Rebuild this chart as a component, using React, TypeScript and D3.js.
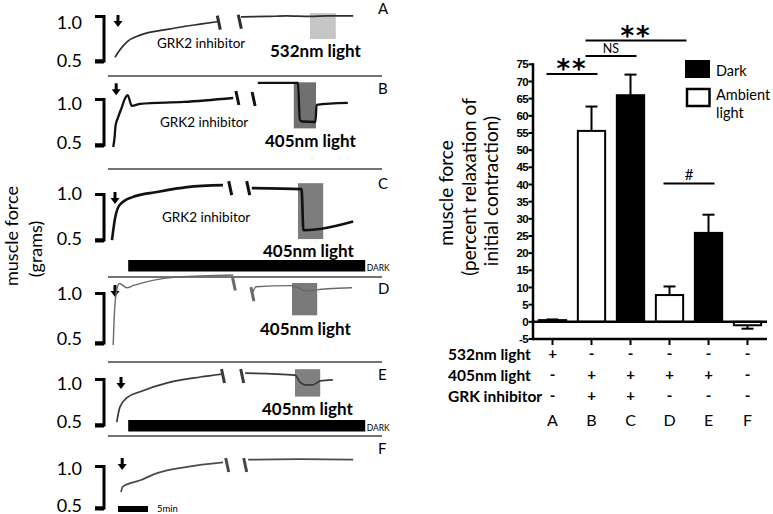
import React from "react";
import * as d3 from "d3";

// ---------------- bar chart data (right) ----------------
const groups = ["A", "B", "C", "D", "E", "F"];
const barMeans = [0.5, 55.6, 66, 7.8, 25.9, -1.0];
const barErrors = [0.2, 7.1, 6.0, 2.5, 5.3, 1.0];
const barCondition = ["ambient", "ambient", "dark", "ambient", "dark", "ambient"];
const yTickValues = [-5, 0, 5, 10, 15, 20, 25, 30, 35, 40, 45, 50, 55, 60, 65, 70, 75];
const rowLabels = ["532nm light", "405nm light", "GRK inhibitor"];
const row532 = ["+", "-", "-", "-", "-", "-"];
const row405 = ["-", "+", "+", "+", "+", "-"];
const rowGRK = ["-", "+", "+", "-", "-", "-"];
// significance brackets: from, to, label, level (in % units)
const sigFrom = ["A", "B", "B", "D"];
const sigTo = ["B", "C", "D", "E"];
const sigLabels = ["**", "NS", "**", "#"];
const sigLevels = [72.2, 77.4, 81.9, 40.3];

// ---------------- force traces (left), [minutes, grams] ----------------
const traceA = [[0.5, 0.56], [1.3, 0.635], [2.5, 0.72], [4.7, 0.79], [9.2, 0.85], [14.7, 0.905], [17.5, 0.93]];
const traceApost = [[21.5, 0.98], [26, 0.985], [29, 0.99], [33, 0.985], [36, 0.99], [40.2, 0.99]];
const traceB = [[0.2, 0.5], [0.4, 0.58], [0.6, 0.72], [1.0, 0.8], [1.6, 0.9], [2.2, 1.0], [2.6, 1.03], [3.3, 0.92], [4.7, 0.94], [12, 0.96], [20.2, 1.0]];
const traceBpost = [[24.3, 1.155], [31, 1.155], [31.3, 0.78], [31.7, 0.76], [33.9, 0.755], [34.1, 0.93], [39.3, 0.95]];
const traceC = [[0, 0.52], [0.5, 0.74], [1.3, 0.88], [3.5, 0.96], [7.5, 1.01], [12.5, 1.06], [18.5, 1.08]];
const traceCpost = [[23.3, 1.05], [31.6, 1.04], [31.9, 0.62], [40.2, 0.71]];
const traceD = [[0.2, 0.5], [0.4, 0.8], [0.8, 1.02], [1.2, 1.08], [2.5, 1.04], [3.5, 1.06], [6.8, 1.11], [10.8, 1.14], [20.2, 1.16]];
const traceDpost = [[23.5, 1.0], [24, 1.05], [29.7, 1.06], [31, 1.04], [32.5, 1.01], [34, 1.02], [36, 1.03], [40, 1.04]];
const traceE = [[0.8, 0.55], [1.3, 0.7], [2.5, 0.8], [4.7, 0.86], [9.2, 0.95], [14.7, 1.01], [18.3, 1.04]];
const traceEpost = [[22.2, 1.05], [30.5, 1.03], [31.3, 0.96], [32.2, 0.93], [33.5, 0.93], [34.7, 0.97], [36.8, 0.98]];
const traceF = [[1.5, 0.7], [1.8, 0.76], [4.7, 0.83], [7.5, 0.91], [12.5, 0.98], [18.5, 1.03]];
const traceFpost = [[22.7, 1.06], [31.3, 1.065], [40.2, 1.06]];

// break marks [minutes, grams]
const breaksA = [[17.8, 0.92], [21.3, 0.93]];
const breaksB = [[20.9, 1.0], [23.6, 0.99]];
const breaksC = [[19.7, 1.05], [22.7, 1.05]];
const breaksD = [[20.3, 1.08], [23.4, 0.98]];
const breaksE = [[18.5, 1.02], [21.7, 1.02]];
const breaksF = [[19.2, 1.0], [22.2, 1.0]];

// light exposure windows [start, end, gTop, gBottom]
const lightA = [33, 37.3, 1.02, 0.75];
const lightB = [30.3, 34, 1.16, 0.69];
const lightC = [31, 35.2, 1.1, 0.53];
const lightD = [30, 34.2, 1.085, 0.78];
const lightE = [30.5, 34.7, 1.09, 0.81];

// drug addition arrow [minutes, grams]
const arrowA = [1.0, 1.0];
const arrowB = [0.7, 1.15];
const arrowC = [0.5, 1.01];
const arrowD = [0.5, 1.066];
const arrowE = [1.5, 1.01];
const arrowF = [1.7, 1.078];

const darkPeriod = [2.7, 42.2];
const scaleBarMinutes = [1, 6];

const panels = [
  { id: "A", pre: traceA, post: traceApost, breaks: breaksA, light: lightA, lightColor: "#c6c6c6", arrow: arrowA, lightLabel: "532nm light", top: 15, bottom: 63, l10: 22, l05: 60, letterY: 14, grkY: 48, lightY: 57, lightX: 270, darkY: null, color: "#2e2e2e", sw: 1.7 },
  { id: "B", pre: traceB, post: traceBpost, breaks: breaksB, light: lightB, lightColor: "#707070", arrow: arrowB, lightLabel: "405nm light", top: 98, bottom: 147, l10: 103, l05: 142, letterY: 94, grkY: 127, lightY: 147, lightX: 265, darkY: null, color: "#111", sw: 2.3 },
  { id: "C", pre: traceC, post: traceCpost, breaks: breaksC, light: lightC, lightColor: "#7c7c7c", arrow: arrowC, lightLabel: "405nm light", top: 193, bottom: 242, l10: 193, l05: 238, letterY: 189, grkY: 222, lightY: 257, lightX: 263, darkY: 260, color: "#111", sw: 2.6 },
  { id: "D", pre: traceD, post: traceDpost, breaks: breaksD, light: lightD, lightColor: "#7a7a7a", arrow: arrowD, lightLabel: "405nm light", top: 292, bottom: 345, l10: 293, l05: 338, letterY: 294, grkY: null, lightY: 335, lightX: 260, darkY: null, color: "#6a6a6a", sw: 1.4 },
  { id: "E", pre: traceE, post: traceEpost, breaks: breaksE, light: lightE, lightColor: "#808080", arrow: arrowE, lightLabel: "405nm light", top: 378, bottom: 427, l10: 383, l05: 421, letterY: 380, grkY: null, lightY: 415, lightX: 262, darkY: 420, color: "#3a3a3a", sw: 1.7 },
  { id: "F", pre: traceF, post: traceFpost, breaks: breaksF, light: null, lightColor: "", arrow: arrowF, lightLabel: "", top: 465, bottom: 510, l10: 468, l05: 505, letterY: 454, grkY: null, lightY: 0, lightX: 0, darkY: null, color: "#4a4a4a", sw: 1.7 },
];
const separators = [76, 169, 277, 362, 436];

export default function App() {
  const font = "Lato, 'Open Sans', sans-serif";
  const xTime = d3.scaleLinear().domain([0, 42]).range([112, 364]);

  // right chart scales
  const x = d3.scaleBand().domain(groups).range([533, 767]).paddingInner(0.3).paddingOuter(0.15);
  const y = d3.scaleLinear().domain([-5, 75]).range([339, 64.3]);
  const bw = x.bandwidth();
  const cx = (g: string) => (x(g) as number) + bw / 2;
  const tableRows = [row532, row405, rowGRK];
  const rowY = [360, 381, 402];

  return (
    <svg width={773} height={514} style={{ position: "absolute", left: 0, top: 0, background: "#fff" }} fontFamily={font}>
      {/* ---------- left panels ---------- */}
      <text transform="translate(18,236) rotate(-90)" textAnchor="middle" fontSize={18}>muscle force</text>
      <text transform="translate(42,249) rotate(-90)" textAnchor="middle" fontSize={18}>(grams)</text>

      {separators.map((sy, i) => (
        <line key={"sep" + i} x1={108} x2={382} y1={sy} y2={sy} stroke="#444" strokeWidth={1.6} />
      ))}

      {panels.map((p) => {
        const yF = d3.scaleLinear().domain([0.5, 1.0]).range([p.bottom, p.top]);
        const line = d3.line<number[]>().x((d) => xTime(d[0])).y((d) => yF(d[1])).curve(d3.curveMonotoneX);
        const ax = xTime(p.arrow[0]);
        const ay = yF(p.arrow[1]);
        return (
          <g key={p.id}>
            {/* scale bracket */}
            <text x={82} y={p.l10 + 6.5} textAnchor="end" fontSize={18}>1.0</text>
            <text x={82} y={p.l05 + 6.5} textAnchor="end" fontSize={18}>0.5</text>
            <path d={`M95,${p.top + 1.5}H104V${p.bottom - 2}H95`} fill="none" stroke="#000" strokeWidth={3} />
            <line x1={95} x2={104} y1={p.bottom - 1.5} y2={p.bottom - 1.5} stroke="#000" strokeWidth={4} />
            {/* arrow */}
            <line x1={ax} x2={ax} y1={ay} y2={ay + 7} stroke="#000" strokeWidth={3} />
            <path d={`M${ax - 4.5},${ay + 6}L${ax + 4.5},${ay + 6}L${ax},${ay + 12}Z`} fill="#000" />
            {/* light window */}
            {p.light && (
              <rect x={xTime(p.light[0])} width={xTime(p.light[1]) - xTime(p.light[0])} y={yF(p.light[2])} height={yF(p.light[3]) - yF(p.light[2])} fill={p.lightColor} />
            )}
            {/* traces */}
            <path d={line(p.pre) || ""} fill="none" stroke={p.color} strokeWidth={p.sw} strokeLinejoin="round" />
            <path d={line(p.post) || ""} fill="none" stroke={p.color} strokeWidth={p.sw} strokeLinejoin="round" />
            {p.breaks.map((b, i) => (
              <line key={i} x1={xTime(b[0]) - 1.5} x2={xTime(b[0]) + 1.5} y1={yF(b[1]) - 7} y2={yF(b[1]) + 7} stroke={p.color} strokeWidth={3} />
            ))}
            {/* labels */}
            <text x={378} y={p.letterY} fontSize={15}>{p.id}</text>
            {p.grkY !== null && (
              <text x={157 + (p.id === "A" ? 0 : p.id === "B" ? 3 : 5)} y={p.grkY} fontSize={13.5}>GRK2 inhibitor</text>
            )}
            {p.lightLabel && (
              <text x={p.lightX} y={p.lightY} fontSize={17} fontWeight="bold">{p.lightLabel}</text>
            )}
            {p.darkY !== null && (
              <g>
                <rect x={xTime(darkPeriod[0])} width={xTime(darkPeriod[1]) - xTime(darkPeriod[0])} y={p.darkY} height={11.5} fill="#000" />
                <text x={xTime(darkPeriod[1]) + 1.5} y={p.darkY + 11} fontSize={8.5}>DARK</text>
              </g>
            )}
          </g>
        );
      })}

      {/* 5 min scale bar */}
      <rect x={xTime(scaleBarMinutes[0])} width={xTime(scaleBarMinutes[1]) - xTime(scaleBarMinutes[0])} y={506} height={6} fill="#000" />
      <text x={157} y={512} fontSize={9.5}>5min</text>

      {/* ---------- right bar chart ---------- */}
      <text transform="translate(453,193) rotate(-90)" textAnchor="middle" fontSize={19}>muscle force</text>
      <text transform="translate(476,187) rotate(-90)" textAnchor="middle" fontSize={19}>(percent relaxation of</text>
      <text transform="translate(498,191) rotate(-90)" textAnchor="middle" fontSize={19}>initial contraction)</text>

      {yTickValues.map((t) => (
        <g key={"yt" + t}>
          <line x1={528.5} x2={533} y1={y(t)} y2={y(t)} stroke="#000" strokeWidth={2} />
          <text x={528} y={y(t)} dy="0.36em" textAnchor="end" fontSize={11.5} fontWeight="bold" fontFamily="'Liberation Sans', Arial, sans-serif" letterSpacing={-0.6}>{t}</text>
        </g>
      ))}

      {groups.map((g, i) => {
        const v = barMeans[i];
        const y0 = y(0);
        const y1 = y(v);
        const top = Math.min(y0, y1);
        const h = Math.max(Math.abs(y1 - y0), 0.5);
        const errEnd = v >= 0 ? y(v + barErrors[i]) : y(v - barErrors[i]);
        const c = cx(g);
        return (
          <g key={"bar" + g}>
            <line x1={c} x2={c} y1={y1} y2={errEnd} stroke="#000" strokeWidth={2} />
            <line x1={c - 6} x2={c + 6} y1={errEnd} y2={errEnd} stroke="#000" strokeWidth={2} />
            <rect x={x(g)} y={top} width={bw} height={h} fill={barCondition[i] === "dark" ? "#000" : "#fff"} stroke="#000" strokeWidth={2} />
          </g>
        );
      })}

      <line x1={533} x2={767} y1={y(0)} y2={y(0)} stroke="#000" strokeWidth={2.5} />
      <line x1={533} x2={767} y1={y(-5)} y2={y(-5)} stroke="#000" strokeWidth={2.5} />
      <line x1={533} x2={533} y1={y(75) - 1} y2={y(-5) + 1.2} stroke="#000" strokeWidth={2.5} />
      {groups.map((g) => (
        <line key={"xt" + g} x1={cx(g)} x2={cx(g)} y1={y(-5)} y2={y(-5) + 6} stroke="#000" strokeWidth={2} />
      ))}

      {/* significance */}
      {sigLabels.map((lab, i) => {
        const xa = cx(sigFrom[i]) - 6;
        const xb = sigLabels[i] === "**" && sigTo[i] === "D" ? cx(sigTo[i]) + 17 : cx(sigTo[i]) + 6;
        const ly = y(sigLevels[i]);
        const mid = (xa + xb) / 2;
        return (
          <g key={"sig" + i}>
            <line x1={xa} x2={xb} y1={ly} y2={ly} stroke="#000" strokeWidth={2} />
            {lab === "**" ? (
              <text x={mid} y={ly + 4} textAnchor="middle" fontSize={26} fontWeight="bold" fontFamily="'DejaVu Sans', sans-serif" letterSpacing={2}>{lab}</text>
            ) : (
              <text x={mid} y={ly - 3} textAnchor="middle" fontSize={lab === "#" ? 15 : 12.5}>{lab}</text>
            )}
          </g>
        );
      })}

      {/* legend */}
      <rect x={685} y={60} width={25} height={18} fill="#000" />
      <text x={716} y={76} fontSize={14.5}>Dark</text>
      <rect x={687} y={89} width={22.5} height={17} fill="#fff" stroke="#000" strokeWidth={2.5} />
      <text x={716} y={100} fontSize={14.5}>Ambient</text>
      <text x={716} y={118} fontSize={14.5}>light</text>

      {/* condition table */}
      {rowLabels.map((r, i) => (
        <text key={r} x={448} y={rowY[i]} fontSize={15.5} fontWeight="bold">{r}</text>
      ))}
      {tableRows.map((row, ri) =>
        row.map((s, gi) => (
          <text key={ri + "-" + gi} x={cx(groups[gi])} y={rowY[ri] - 1} textAnchor="middle" fontSize={15} fontWeight="bold">{s}</text>
        ))
      )}
      {groups.map((g) => (
        <text key={"lab" + g} x={cx(g)} y={426} textAnchor="middle" fontSize={16}>{g}</text>
      ))}
    </svg>
  );
}
